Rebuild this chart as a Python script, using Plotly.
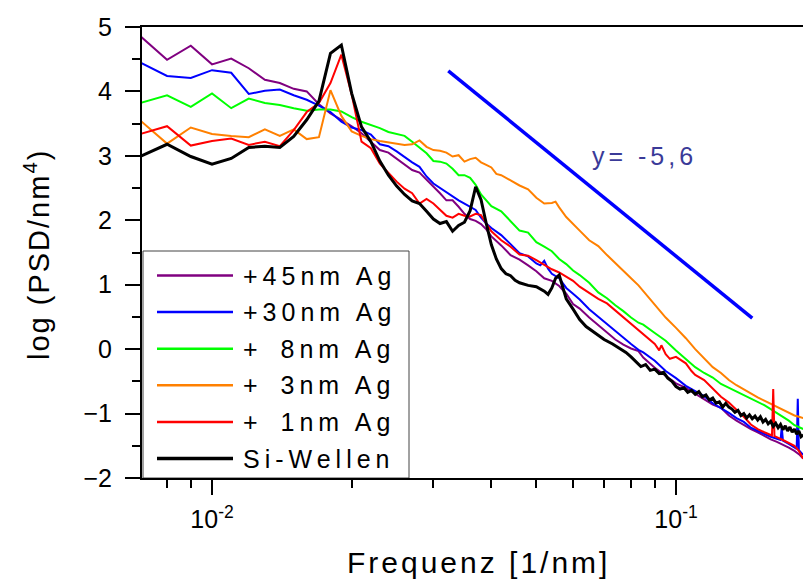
import plotly.graph_objects as go

# ---------------- data (frequency index k -> f = k * 0.001 1/nm) ----------------
k_ag45 = [7, 8, 9, 10, 11, 12, 13, 14, 15, 16, 17, 18, 19, 20, 21, 22, 23, 24, 25, 26, 27, 28, 29, 30,
          31, 32, 33, 34, 35, 36, 37, 38, 39, 40, 42, 44, 46, 48, 50, 52, 54, 56, 58, 60, 62, 65, 68,
          71, 74, 77, 80, 83, 85, 90, 95, 100, 105, 110, 115, 120, 125, 130, 135, 140, 145, 150, 155,
          160, 165, 170, 175, 180, 184, 188]
psd_ag45 = [4.86, 4.49, 4.71, 4.42, 4.51, 4.36, 4.18, 4.13, 4.04, 4.00, 3.80, 3.66, 3.56, 3.46, 3.35,
            3.21, 3.09, 3.05, 2.96, 2.86, 2.78, 2.74, 2.63, 2.53, 2.42, 2.31, 2.31, 2.21, 2.10, 2.02,
            1.99, 1.94, 1.86, 1.75, 1.61, 1.46, 1.39, 1.30, 1.21, 1.10, 1.06, 0.98, 0.86, 0.70, 0.63,
            0.49, 0.37, 0.26, 0.15, 0.07, 0.01, -0.03, -0.13, -0.29, -0.41, -0.53, -0.60, -0.69, -0.78,
            -0.86, -0.91, -1.03, -1.11, -1.18, -1.24, -1.29, -1.35, -1.40, -1.44, -1.48, -1.53, -1.58,
            -1.63, -1.70]

k_ag30 = [7, 8, 9, 10, 11, 12, 13, 14, 15, 16, 17, 18, 19, 20, 21, 22, 23, 24, 25, 26, 27, 28, 29, 30,
          31, 32, 33, 34, 35, 36, 37, 38, 39, 40, 42, 44, 46, 48, 50, 51, 52, 53, 54, 56, 58, 60, 62,
          65, 68, 71, 74, 77, 80, 83, 85, 90, 95, 100, 105, 110, 115, 120, 125, 130, 135, 140, 145,
          150, 155, 160, 165, 168, 169, 170, 175, 180, 182, 183, 184, 188]
psd_ag30 = [4.45, 4.24, 4.21, 4.33, 4.29, 3.96, 4.01, 4.03, 3.94, 3.87, 3.78, 3.68, 3.53, 3.44, 3.40,
            3.33, 3.18, 3.15, 3.07, 2.98, 2.90, 2.83, 2.68, 2.57, 2.50, 2.44, 2.37, 2.31, 2.26, 2.21,
            2.16, 2.04, 1.95, 1.88, 1.77, 1.63, 1.49, 1.44, 1.33, 1.30, 1.37, 1.25, 1.17, 1.10, 0.95,
            0.86, 0.77, 0.62, 0.50, 0.39, 0.28, 0.18, 0.08, -0.01, -0.05, -0.18, -0.34, -0.45, -0.57,
            -0.65, -0.73, -0.84, -0.91, -0.99, -1.07, -1.13, -1.22, -1.27, -1.32, -1.36, -1.39, -1.41,
            -1.21, -1.42, -1.47, -1.52, -1.55, -0.77, -1.57, -1.64]

k_ag8 = [7, 8, 9, 10, 11, 12, 13, 14, 15, 16, 17, 18, 19, 20, 21, 22, 23, 24, 25, 26, 27, 28, 29, 30,
         31, 32, 33, 34, 35, 36, 37, 38, 39, 40, 42, 44, 46, 48, 50, 52, 54, 56, 58, 60, 62, 65, 68,
         71, 74, 77, 80, 83, 85, 90, 95, 100, 105, 110, 115, 120, 125, 130, 135, 140, 145, 150, 155,
         160, 165, 170, 175, 180, 184, 188]
psd_ag8 = [3.82, 3.94, 3.76, 3.97, 3.74, 3.89, 3.82, 3.79, 3.74, 3.70, 3.72, 3.72, 3.69, 3.60, 3.53,
           3.48, 3.43, 3.37, 3.34, 3.31, 3.22, 3.13, 3.04, 2.92, 2.91, 2.88, 2.80, 2.70, 2.70, 2.66,
           2.55, 2.40, 2.30, 2.22, 2.14, 1.98, 1.84, 1.81, 1.66, 1.59, 1.52, 1.40, 1.32, 1.22, 1.15,
           1.03, 0.88, 0.79, 0.68, 0.59, 0.49, 0.41, 0.38, 0.25, 0.13, -0.02, -0.15, -0.28, -0.37,
           -0.44, -0.54, -0.60, -0.66, -0.71, -0.77, -0.82, -0.87, -0.93, -0.99, -1.05, -1.11, -1.18,
           -1.21, -1.24]

k_ag3 = [7, 8, 9, 10, 11, 12, 13, 14, 15, 16, 17, 18, 19, 20, 21, 22, 23, 24, 25, 26, 27, 28, 29, 30,
         31, 32, 33, 34, 35, 36, 37, 38, 39, 40, 41, 42, 44, 46, 48, 50, 52, 54, 55, 56, 58, 60, 62,
         65, 68, 71, 74, 77, 80, 83, 85, 90, 95, 100, 105, 110, 115, 120, 125, 130, 135, 140, 145,
         150, 155, 160, 165, 170, 175, 180, 184, 188]
psd_ag3 = [3.55, 3.19, 3.44, 3.34, 3.31, 3.29, 3.41, 3.31, 3.41, 3.26, 3.29, 4.02, 3.62, 3.38, 3.31,
           3.26, 3.23, 3.21, 3.19, 3.17, 3.18, 3.24, 3.14, 3.09, 3.08, 3.05, 2.99, 3.01, 2.91, 2.95,
           2.97, 2.90, 2.86, 2.82, 2.72, 2.70, 2.62, 2.54, 2.48, 2.35, 2.26, 2.27, 2.29, 2.20, 2.05,
           1.95, 1.84, 1.69, 1.60, 1.46, 1.33, 1.22, 1.10, 0.99, 0.90, 0.70, 0.49, 0.33, 0.17, 0.00,
           -0.14, -0.28, -0.37, -0.48, -0.56, -0.63, -0.69, -0.75, -0.80, -0.85, -0.90, -0.94, -0.99,
           -1.03, -1.05, -1.07]

k_ag1 = [7, 8, 9, 10, 11, 12, 13, 14, 15, 16, 17, 18, 19, 20, 21, 22, 23, 24, 25, 26, 27, 28, 29, 30,
         31, 32, 33, 34, 35, 36, 37, 38, 39, 40, 42, 44, 46, 48, 50, 52, 54, 56, 58, 60, 62, 65, 68,
         71, 74, 77, 80, 83, 85, 90, 92, 93, 95, 97, 100, 103, 105, 108, 110, 115, 120, 125, 130, 135,
         140, 145, 150, 155, 161, 162, 163, 170, 175, 180, 184, 188]
psd_ag1 = [3.34, 3.46, 3.16, 3.23, 3.27, 3.17, 3.22, 3.15, 3.40, 3.68, 3.82, 4.13, 4.57, 3.95, 3.22,
           3.12, 2.88, 2.74, 2.60, 2.49, 2.42, 2.26, 2.33, 2.26, 2.16, 2.07, 2.04, 2.10, 2.07, 2.06,
           2.10, 2.08, 1.95, 1.83, 1.69, 1.59, 1.47, 1.45, 1.38, 1.31, 1.24, 1.19, 1.13, 1.06, 0.97,
           0.87, 0.78, 0.71, 0.60, 0.50, 0.40, 0.30, 0.23, 0.08, -0.02, 0.06, -0.08, -0.15, -0.12,
           -0.18, -0.22, -0.34, -0.40, -0.48, -0.62, -0.74, -0.83, -0.94, -1.05, -1.17, -1.24, -1.29,
           -1.34, -0.62, -1.35, -1.41, -1.45, -1.50, -1.58, -1.70]

k_si = [7, 8, 9, 10, 11, 12, 13, 14, 15, 16, 17, 18, 19, 20, 21, 22, 23, 24, 25, 26, 27, 28, 29, 30,
        31, 32, 33, 34, 35, 36, 37, 38, 39, 40, 41, 42, 43, 44, 45, 46, 48, 50, 52, 53, 54, 55, 56,
        57, 58, 60, 62, 64, 66, 68, 70, 73, 76, 78, 80, 82, 84, 86, 88, 90, 92, 94, 96, 98, 100, 102,
        104, 106, 108, 110, 112, 114, 116, 118, 120, 122, 124, 126, 128, 130, 132, 134, 136, 138,
        140, 142, 144, 146, 148, 150, 152, 154, 156, 158, 160, 162, 164, 166, 168, 170, 172, 174,
        176, 178, 180, 182, 184, 186, 188]
psd_si = [2.99, 3.18, 2.99, 2.87, 2.96, 3.13, 3.15, 3.13, 3.30, 3.56, 3.85, 4.59, 4.72, 3.97, 3.45,
          3.22, 2.92, 2.70, 2.53, 2.40, 2.30, 2.26, 2.14, 2.02, 1.95, 1.98, 1.83, 1.92, 1.97, 2.15,
          2.52, 2.32, 1.95, 1.62, 1.40, 1.25, 1.17, 1.14, 1.07, 1.03, 0.99, 0.97, 0.90, 0.85, 0.95,
          1.10, 1.15, 0.95, 0.78, 0.62, 0.46, 0.35, 0.28, 0.22, 0.15, 0.08, 0.00, -0.05, -0.12, -0.20,
          -0.27, -0.24, -0.33, -0.31, -0.38, -0.36, -0.45, -0.50, -0.58, -0.62, -0.60, -0.67, -0.64,
          -0.70, -0.66, -0.74, -0.71, -0.79, -0.76, -0.84, -0.82, -0.90, -0.84, -0.90, -0.93, -0.98,
          -0.95, -1.03, -1.00, -1.07, -1.02, -1.08, -1.04, -1.10, -1.05, -1.13, -1.09, -1.16, -1.12,
          -1.20, -1.15, -1.22, -1.17, -1.25, -1.19, -1.27, -1.21, -1.29, -1.24, -1.32, -1.27, -1.36,
          -1.33]

freq_step = 0.001  # 1/nm per index

slope_f = [0.0323, 0.146]
slope_y = [4.32, 0.48]
slope_label = "y= -5,6"

series_names = ["+45nm Ag", "+30nm Ag", "+  8nm Ag", "+  3nm Ag", "+  1nm Ag", "Si-Wellen"]
series_k = [k_ag45, k_ag30, k_ag8, k_ag3, k_ag1, k_si]
series_psd = [psd_ag45, psd_ag30, psd_ag8, psd_ag3, psd_ag1, psd_si]
series_colors = ["#800080", "#0000ff", "#00ff00", "#ff8000", "#ff0000", "#000000"]
series_widths = [2, 2, 2, 2, 2, 3]

x_tickvals = [0.01, 0.1]
x_ticktext = ["10<sup>-2</sup>", "10<sup>-1</sup>"]
x_minor = [0.008, 0.009, 0.02, 0.03, 0.04, 0.05, 0.06, 0.07, 0.08, 0.09, 0.2]

FONT = "Liberation Sans, Arial, sans-serif"


def spaced(text, px):
    return '<span style="letter-spacing:%spx">%s</span>' % (px, text)


def legend_text(name, px):
    # the double blank is kept (as non-breaking blanks so it does not collapse)
    if "  " in name:
        head, tail = name.split("  ", 1)
        return (spaced(head, px) + '<span style="letter-spacing:2px">\u00a0\u00a0</span>'
                + spaced(tail, px))
    return spaced(name, px)


fig = go.Figure()

for name, ks, ys, col, w in zip(series_names, series_k, series_psd, series_colors, series_widths):
    fig.add_trace(go.Scatter(x=[k * freq_step for k in ks], y=ys, mode="lines", name=name,
                             line=dict(color=col, width=w), showlegend=False))

fig.add_trace(go.Scatter(x=slope_f, y=slope_y, mode="lines", showlegend=False,
                         line=dict(color="#0000ff", width=3.5)))

W, H = 803, 582
L, R, T, B = 142, 0, 27, 104
pw, ph = W - L - R, H - T - B


def px_x(px):
    return (px - L) / pw


def px_y(py):
    return (H - B - py) / ph


shapes = []
annotations = []

# legend box
shapes.append(dict(type="rect", xref="paper", yref="paper", x0=px_x(143), x1=px_x(409),
                   y0=0, y1=px_y(251), line=dict(color="#444444", width=1),
                   fillcolor="white", layer="below"))
row0, row_step = 275.5, 36.6
for i, (name, col, w) in enumerate(zip(series_names, series_colors, series_widths)):
    yy = px_y(row0 + i * row_step)
    shapes.append(dict(type="line", xref="paper", yref="paper", x0=px_x(157), x1=px_x(233),
                       y0=yy, y1=yy, line=dict(color=col, width=w + 0.5)))
    annotations.append(dict(xref="paper", yref="paper", x=px_x(241), y=yy, xanchor="left",
                            yanchor="middle", showarrow=False, text=legend_text(name, 5),
                            font=dict(family=FONT, size=25, color="black")))

# slope label
annotations.append(dict(xref="paper", yref="paper", x=px_x(590), y=px_y(156), xanchor="left",
                        yanchor="middle", showarrow=False, text=spaced(slope_label, 4),
                        font=dict(family=FONT, size=25, color="#3a3a98")))

# axis titles
annotations.append(dict(xref="paper", yref="paper", x=px_x(478), y=px_y(562), xanchor="center",
                        yanchor="middle", showarrow=False, text=spaced("Frequenz [1/nm]", 3),
                        font=dict(family=FONT, size=30, color="black")))
annotations.append(dict(xref="paper", yref="paper", x=px_x(37), y=px_y(255), xanchor="center",
                        yanchor="middle", showarrow=False, textangle=-90,
                        text=spaced("log (PSD/nm<sup>4</sup>)", 2),
                        font=dict(family=FONT, size=29, color="black")))

fig.update_layout(
    width=W, height=H,
    margin=dict(l=L, r=R, t=T, b=B, pad=0),
    paper_bgcolor="white", plot_bgcolor="white",
    font=dict(family=FONT, color="black"),
    shapes=shapes, annotations=annotations,
    xaxis=dict(type="log", range=[-2.1509, -0.7263], showgrid=False, zeroline=False,
               showline=True, linecolor="black", linewidth=2, mirror=True,
               ticks="outside", ticklen=15, tickwidth=2, tickcolor="black",
               tickmode="array", tickvals=x_tickvals, ticktext=x_ticktext,
               ticklabelstandoff=3,
               tickfont=dict(family=FONT, size=25, color="black"),
               minor=dict(tickmode="array", tickvals=x_minor, ticks="outside", ticklen=8,
                          tickwidth=2, tickcolor="black", showgrid=False)),
    yaxis=dict(range=[-2, 5], showgrid=False, zeroline=False,
               showline=True, linecolor="black", linewidth=2, mirror=False,
               ticks="outside", ticklen=15, tickwidth=2, tickcolor="black",
               tickmode="linear", tick0=0, dtick=1, ticklabelstandoff=8,
               tickfont=dict(family=FONT, size=25, color="black"),
               minor=dict(tickmode="linear", tick0=0, dtick=0.5, ticks="outside", ticklen=8,
                          tickwidth=2, tickcolor="black", showgrid=False)),
)

fig.write_html("out.html")
